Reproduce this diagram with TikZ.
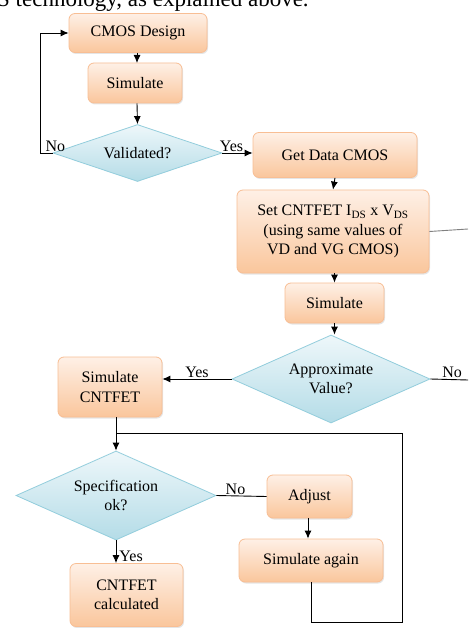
\documentclass[tikz,border=0pt]{standalone}
\usepackage{fontspec}
\setmainfont{Liberation Serif}
\usetikzlibrary{shapes.geometric,arrows.meta,shadows}
\definecolor{boxtop}{HTML}{FEF0E6}
\definecolor{boxbot}{HTML}{FAC69C}
\definecolor{boxline}{HTML}{F8BE94}
\definecolor{dectop}{HTML}{EEF7FA}
\definecolor{decbot}{HTML}{B4DCE7}
\definecolor{decline}{HTML}{92CDDC}
\tikzset{
  step box/.style={rectangle, rounded corners=6pt, draw=boxline, line width=0.8pt,
    top color=boxtop, bottom color=boxbot, align=center, inner sep=2pt,
    drop shadow={opacity=0.2, shadow xshift=1pt, shadow yshift=-1.5pt}},
  decision/.style={diamond, draw=decline, line width=0.8pt, top color=dectop,
    bottom color=decbot, align=center, inner sep=0pt, aspect=2.2},
  flow/.style={-{Latex[length=8pt,width=7pt]}, line width=0.9pt},
  link/.style={line width=0.9pt},
  answer/.style={font=\fontsize{16}{19}\selectfont, inner sep=1pt}
}
\begin{document}
\begin{tikzpicture}[x=1pt, y=-1pt, font=\fontsize{16}{19.5}\selectfont]
  \clip (0,0) rectangle (468,628);
  \fill[white] (0,0) rectangle (468,628);
  % text of the page above the chart
  \node[anchor=base west, inner sep=0pt, font=\fontsize{23}{26}\selectfont]
    (pagetext) at (-3,6.5) {S technology, as explained above.};

  % CMOS branch
  \node[step box, minimum width=138pt, minimum height=39pt] (design) at (138,33) {CMOS Design};
  \node[step box, minimum width=94pt, minimum height=40pt] (sim1) at (135,83) {Simulate};
  \node[decision, minimum width=169pt, minimum height=57pt] (valid) at (137.5,153) {Validated?};

  % CNTFET branch
  \node[step box, minimum width=164pt, minimum height=45pt] (getdata) at (335,155) {Get Data CMOS};
  \node[step box, minimum width=192pt, minimum height=83pt] (setcnt) at (333,231.5)
    {Set CNTFET I\textsubscript{DS} x V\textsubscript{DS}\\(using same values of\\VD and VG CMOS)};
  \node[step box, minimum width=99pt, minimum height=40pt] (sim2) at (334.5,303) {Simulate};
  \node[decision, minimum width=198pt, minimum height=88pt] (approx) at (331,379)
    {Approximate\\Value?};
  \node[step box, minimum width=104pt, minimum height=60pt] (simcnt) at (110,387)
    {Simulate\\CNTFET};
  \node[decision, minimum width=200pt, minimum height=89pt] (spec) at (116,495.5)
    {Specification\\ok?};
  \node[step box, minimum width=85pt, minimum height=43pt] (adjust) at (309.5,496.5) {Adjust};
  \node[step box, minimum width=144pt, minimum height=43pt] (simagain) at (311,560.5)
    {Simulate again};
  \node[step box, minimum width=113pt, minimum height=63pt] (calc) at (126.5,595)
    {CNTFET\\calculated};

  \coordinate (outset) at (468,229);
  \coordinate (outno) at (468,380);
  \coordinate (loopcorner) at (402,622);
  \coordinate (loopjoin) at (117,433);

  % connectors
  \draw[flow] (design.south -| 137,0) -- (137,63);
  \draw[flow] (sim1.south -| 137,0) -- (valid.north);
  \draw[flow] (valid.west) -- ++(-12,0) node[answer, above, pos=0.1, xshift=4pt] {No}
    |- (design.west);
  \draw[flow] (valid.east) -- (valid.east -| getdata.west)
    node[answer, above, pos=0.3] {Yes};
  \draw[flow] (getdata.south) -- (setcnt.north);
  \draw[link, gray] (setcnt.east) -- (outset);
  \draw[flow] (setcnt.south -| sim2.north) -- (sim2.north);
  \draw[flow] (sim2.south) -- (sim2.south |- approx.north);
  \draw[link] (approx.east) -- (outno) node[answer, above, midway, xshift=3pt] {No};
  \draw[flow] (approx.west) -- (approx.west -| simcnt.east)
    node[answer, above, midway] {Yes};
  \draw[flow] (simcnt.south -| spec.north) -- (spec.north);
  \draw[link] (simagain.south) |- (loopcorner) |- (loopjoin);
  \draw[link] (spec.east) -- (adjust.west) node[answer, above, midway, xshift=-6pt] {No};
  \draw[flow] (adjust.south -| 308,0) -- (simagain.north -| 308,0);
  \draw[flow] (spec.south) -- (spec.south |- calc.north)
    node[answer, right, midway, inner sep=0pt, xshift=3pt, yshift=-5pt] {Yes};
\end{tikzpicture}
\end{document}
